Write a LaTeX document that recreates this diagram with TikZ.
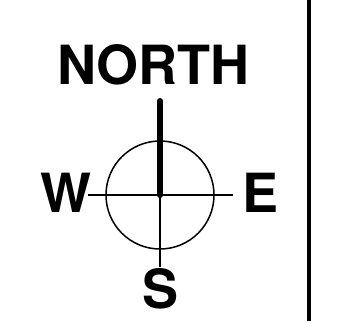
\documentclass[tikz,border=0pt]{standalone}
\usepackage{fontspec}
\setmainfont{TeX Gyre Heros}
\usetikzlibrary{calc}
\tikzset{
  himmel/.style={font=\fontsize{54}{54}\selectfont\bfseries,inner sep=0pt},
  nadel/.style={black,line width=6pt,line cap=round},
  achse/.style={black,line width=1.5pt},
  kreis/.style={draw=black,line width=1.5pt},
  rand/.style={black,line width=4pt},
}
\begin{document}
\begin{tikzpicture}[x=1pt,y=1pt]
  \useasboundingbox (0,0) rectangle (345,323);
  \coordinate (c) at (160,128);
  \coordinate (nspitze) at (160,222);
  \coordinate (wend) at (88,128);
  \coordinate (eend) at (233,128);
  \coordinate (send) at (160,56);
  \draw[kreis] (c) circle (54);
  \draw[achse] (wend)--(eend);
  \draw[achse] (c)--(send);
  \draw[nadel] (c)--(nspitze);
  \node[himmel] (nord) at (153.5,258) {NORTH};
  \node[himmel] (west) at (66,130) {W};
  \node[himmel] (ost) at (261,130) {E};
  \node[himmel] (sued) at (161,34) {S};
  \coordinate (roben) at (309,323);
  \coordinate (runten) at (309,2);
  \draw[rand] (roben)--(runten);
\end{tikzpicture}
\end{document}
